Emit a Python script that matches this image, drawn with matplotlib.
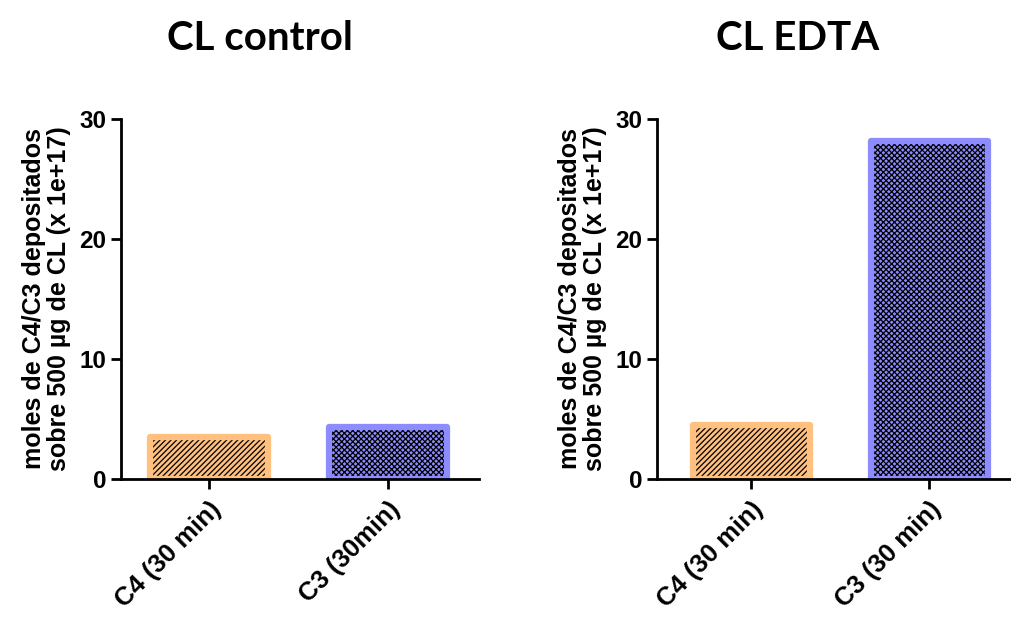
import matplotlib
matplotlib.use('Agg')
import matplotlib.pyplot as plt

# Datos
titulos = ['CL control', 'CL EDTA']
etiquetas_control = ['C4 (30 min)', 'C3 (30min)']
etiquetas_edta = ['C4 (30 min)', 'C3 (30 min)']
valores_control = [3.5, 4.3]
valores_edta = [4.5, 28.2]
ylabel = 'moles de C4/C3 depositados\nsobre 500 µg de CL (x 1e+17)'

colores_borde = ['#FFC080', '#8C8CFF']
hatches = ['//////', 'xxxxxx']

plt.rcParams['font.family'] = 'Liberation Sans'
plt.rcParams['font.weight'] = 'bold'
plt.rcParams['hatch.linewidth'] = 0.9

fig = plt.figure(figsize=(10.11, 6.17), dpi=100)
ax1 = fig.add_axes([0.1197, 0.2237, 0.3541, 0.5835])
ax2 = fig.add_axes([0.6499, 0.2237, 0.3590, 0.5835])


def dibujar(ax, titulo, etiquetas, valores, xlim):
    x = list(range(len(valores)))
    # relleno con trama negra
    ax.bar(x, valores, width=0.66, color=colores_borde, edgecolor='black',
           hatch=hatches, linewidth=0)
    # borde claro
    ax.bar(x, valores, width=0.66, fill=False, edgecolor=colores_borde,
           linewidth=4.5, joinstyle='round')
    ax.set_xlim(xlim)
    ax.set_ylim(0, 30)
    ax.set_yticks([0, 10, 20, 30])
    ax.set_xticks(x)
    ax.set_xticklabels(etiquetas, rotation=45, ha='right', va='top',
                       rotation_mode='anchor', fontsize=18.5, fontweight='bold')
    ax.tick_params(axis='y', labelsize=17.5)
    ax.tick_params(axis='both', width=2, length=7)
    ax.tick_params(axis='x', pad=6)
    ax.spines['top'].set_visible(False)
    ax.spines['right'].set_visible(False)
    ax.spines['left'].set_linewidth(2)
    ax.spines['bottom'].set_linewidth(2)
    ax.set_ylabel(ylabel, fontsize=18, fontweight='bold', labelpad=6,
                  linespacing=1.05)
    ax.set_title(titulo, fontsize=29, fontweight='bold', family='Lato',
                 pad=50, x=0.388)


dibujar(ax1, titulos[0], etiquetas_control, valores_control, (-0.49, 1.51))
dibujar(ax2, titulos[1], etiquetas_edta, valores_edta, (-0.53, 1.51))

fig.savefig('out.png', dpi=100)
